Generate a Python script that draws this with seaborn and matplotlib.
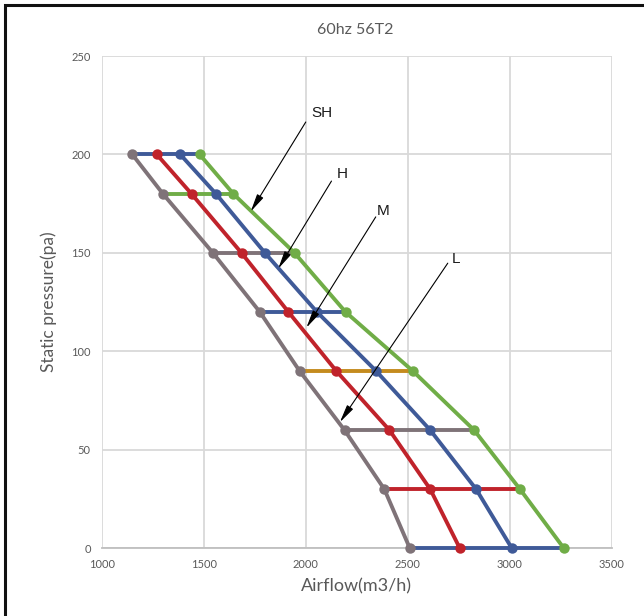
import matplotlib
matplotlib.use("Agg")
import matplotlib.pyplot as plt
import seaborn as sns
import pandas as pd
from matplotlib.patches import Rectangle

# static pressure levels (Pa) and airflow (m3/h) for each speed
pressure = [200, 180, 150, 120, 90, 60, 30, 0]
airflow_L = [1150, 1300, 1545, 1775, 1970, 2190, 2385, 2510]
airflow_M = [1270, 1440, 1685, 1915, 2150, 2410, 2610, 2755]
airflow_H = [1385, 1560, 1800, 2055, 2345, 2610, 2835, 3010]
airflow_SH = [1480, 1645, 1945, 2195, 2525, 2825, 3050, 3265]
speeds = ["L", "M", "H", "SH"]

# colours of the iso-pressure connecting lines (Excel series cycling)
row_colors = ["#3F5A98", "#70AD47", "#7F7378", "#3F5A98",
              "#C48B1E", "#7F7378", "#C0232B", "#3F5A98"]
curve_colors = {"L": "#7F7378", "M": "#C0232B", "H": "#3F5A98", "SH": "#70AD47"}

# annotation label positions and arrow tips (data coords)
label_xy = {"SH": (2028, 221), "H": (2152, 190), "M": (2348, 171.5), "L": (2716, 147)}
line_start = {"SH": (2000, 216.5), "H": (2126, 186.5), "M": (2343, 168.3), "L": (2696, 144.8)}
arrow_tip = {"SH": (1730, 171), "H": (1865, 142), "M": (2003, 112), "L": (2167, 64)}

df = pd.DataFrame({"pressure": pressure, "L": airflow_L, "M": airflow_M,
                   "H": airflow_H, "SH": airflow_SH})

sns.set_theme(style="white")
plt.rcParams["font.family"] = ["Lato", "DejaVu Sans"]

fig = plt.figure(figsize=(6.44, 6.16), dpi=100)
ax = fig.add_axes([0.158, 0.110, 0.792, 0.799])

# horizontal lines at each pressure, from L to SH
for i, row in df.iterrows():
    sns.lineplot(x=[row["L"], row["SH"]], y=[row["pressure"]] * 2, ax=ax,
                 color=row_colors[i], linewidth=2.8, zorder=2.7, clip_on=False)

# fan curves
for s in speeds:
    sns.lineplot(data=df, x=s, y="pressure", sort=False, ax=ax,
                 color=curve_colors[s], linewidth=2.8, marker="o",
                 markersize=7.5, markeredgewidth=0, zorder=3, clip_on=False)

for s in speeds:
    ax.annotate("", xy=arrow_tip[s], xytext=line_start[s],
                arrowprops=dict(arrowstyle="-|>,head_length=0.9,head_width=0.18",
                                color="black", lw=0.8, shrinkA=0, shrinkB=0),
                zorder=5)
    ax.text(label_xy[s][0], label_xy[s][1], s, fontsize=11, color="#1a1a1a",
            family=["Liberation Sans", "DejaVu Sans"], va="center", ha="left")

ax.set_xlim(1000, 3500)
ax.set_ylim(0, 250)
ax.set_xticks([1000, 1500, 2000, 2500, 3000, 3500])
ax.set_yticks([0, 50, 100, 150, 200, 250])
ax.grid(True, color="#D9D9D9", linewidth=1.3)
ax.set_axisbelow(True)
for side in ["top", "right", "left"]:
    ax.spines[side].set_visible(False)
ax.spines["bottom"].set_color("#BFBFBF")
ax.spines["bottom"].set_linewidth(1.3)
ax.tick_params(axis="both", length=0, labelsize=8, labelcolor="#595959", pad=8)

ax.set_xlabel("Airflow(m3/h)", fontsize=13, color="#595959", labelpad=6)
ax.set_ylabel("Static pressure(pa)", fontsize=12.5, color="#595959", labelpad=10)
fig.text(0.552, 0.951, "60hz 56T2", fontsize=11.5, color="#595959",
         ha="center", va="center")

# chart-area frame (only top and left are visible in the crop)
fig.patches.append(Rectangle((0.008, -0.2), 1.2, 1.192, transform=fig.transFigure,
                             fill=False, edgecolor="#111111", linewidth=2.2))

fig.savefig("out.png", dpi=100)
